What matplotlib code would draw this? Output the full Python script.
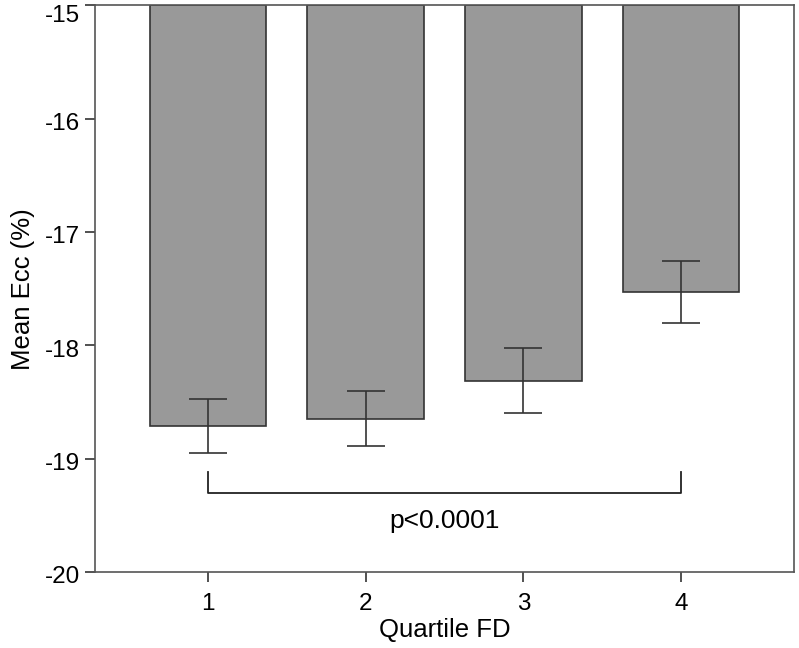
import numpy as np
import matplotlib.pyplot as plt
import matplotlib.transforms as mtransforms

plt.rcParams['font.family'] = ['Liberation Sans', 'DejaVu Sans']
plt.rcParams['axes.unicode_minus'] = False

quartiles = [1, 2, 3, 4]
means = [-18.71, -18.65, -18.31, -17.53]
err_low = [-18.95, -18.89, -18.60, -17.80]
err_high = [-18.47, -18.40, -18.02, -17.26]
p_text = 'p<0.0001'

x = np.array(quartiles)
m = np.array(means)
yerr = np.array([m - np.array(err_low), np.array(err_high) - m])

fig = plt.figure(figsize=(7.99, 6.48), dpi=100)
ax = fig.add_axes([0.119, 0.117, 0.875, 0.875])

ax.bar(x, m + 15, bottom=-15, width=0.74, color='#999999',
       edgecolor='#333333', linewidth=1.2, zorder=2)
ax.errorbar(x, m, yerr=yerr, fmt='none', ecolor='#333333',
            elinewidth=1.2, capsize=14, capthick=1.2, zorder=3)

# bracket q1 vs q4
ax.plot([x[0], x[0], x[-1], x[-1]], [-19.12, -19.30, -19.30, -19.12],
        color='#222222', linewidth=1.3)
ax.text((x[0] + x[-1]) / 2, -19.55, p_text, ha='center', va='center',
        fontsize=19)

ax.set_xlim(0.283, 4.717)
ax.set_ylim(-20, -15)
ax.set_xticks(x)
ax.set_yticks([-20, -19, -18, -17, -16, -15])
ax.tick_params(direction='out', length=7, width=1.2, labelsize=17.5,
               color='#333333')
ax.tick_params(axis='y', pad=4)
ax.tick_params(axis='x', pad=8)
for s in ax.spines.values():
    s.set_color('#555555')
    s.set_linewidth(1.2)

# labels sit a bit below their ticks, like the original
for lab in ax.get_yticklabels():
    dy = -6 if lab.get_text() == '-15' else -2
    off = mtransforms.ScaledTranslation(0, dy / 72, fig.dpi_scale_trans)
    lab.set_transform(lab.get_transform() + off)

ax.set_xlabel('Quartile FD', fontsize=18.5, labelpad=2)
ax.set_ylabel('Mean Ecc (%)', fontsize=18.5, labelpad=7)

fig.savefig('out.png', dpi=100)
